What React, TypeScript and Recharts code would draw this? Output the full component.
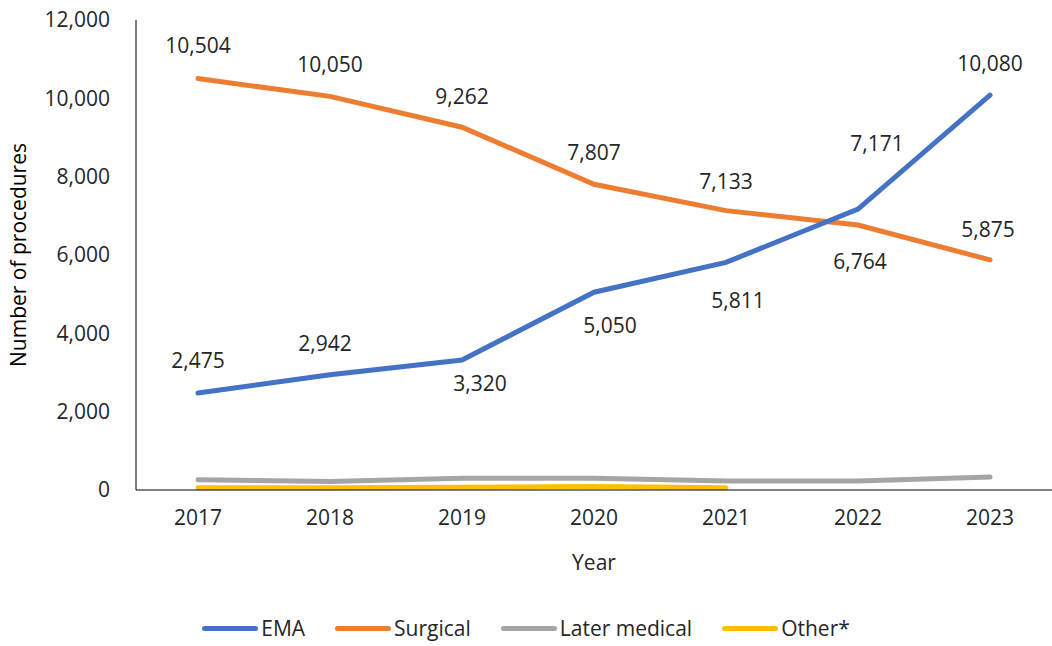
import React from 'react';
import { LineChart, Line, XAxis, YAxis, Legend } from 'recharts';

const years = ['2017', '2018', '2019', '2020', '2021', '2022', '2023'];
const ema = [2475, 2942, 3320, 5050, 5811, 7171, 10080];
const surgical = [10504, 10050, 9262, 7807, 7133, 6764, 5875];
const laterMedical = [260, 220, 300, 300, 230, 230, 330];
const other = [60, 60, 70, 90, 60, null, null];
const yTicks = [0, 2000, 4000, 6000, 8000, 10000, 12000];

const data = years.map((year, i) => ({
  year,
  ema: ema[i],
  surgical: surgical[i],
  laterMedical: laterMedical[i],
  other: other[i],
}));

const series = [
  { key: 'ema', name: 'EMA', color: '#4472C4' },
  { key: 'surgical', name: 'Surgical', color: '#ED7D31' },
  { key: 'laterMedical', name: 'Later medical', color: '#A5A5A5' },
  { key: 'other', name: 'Other*', color: '#FFC000' },
];

// label placement tweaks, like the hand-moved labels in the original
const emaOffsets = [
  [0, -33], [-5, -32], [18, 23], [16, 33], [12, 38], [19, -66], [0, -32],
];
const surgicalOffsets = [
  [0, -34], [0, -32], [0, -31], [0, -32], [0, -30], [2, 36], [-2, -31],
];

const FONT = '"Open Sans", sans-serif';
const TEXT = '#262626';

const makeLabel = (offsets: number[][]) => (props: any) => {
  const { x, y, value, index } = props;
  if (value == null) return null;
  const [dx, dy] = offsets[index] || [0, -30];
  return (
    <text
      x={x + dx}
      y={y + dy}
      textAnchor="middle"
      dominantBaseline="central"
      fontSize={21}
      fontFamily={FONT}
      fill={TEXT}
    >
      {Number(value).toLocaleString('en-US')}
    </text>
  );
};

const LegendContent = () => (
  <div
    style={{
      display: 'flex',
      justifyContent: 'center',
      alignItems: 'center',
      gap: 30,
      fontFamily: FONT,
      fontSize: 21,
      color: TEXT,
      height: 28,
    }}
  >
    {series.map((s) => (
      <div key={s.key} style={{ display: 'flex', alignItems: 'center' }}>
        <span
          style={{
            display: 'inline-block',
            width: 56,
            height: 5,
            borderRadius: 3,
            background: s.color,
            marginRight: 3,
          }}
        />
        <span>{s.name}</span>
      </div>
    ))}
  </div>
);

const App: React.FC = () => {
  return (
    <div style={{ position: 'absolute', left: 0, top: 0 }}>
      <LineChart
        width={1052}
        height={646}
        data={data}
        margin={{ top: 20, right: 0, left: 0, bottom: 4 }}
      >
        <XAxis
          dataKey="year"
          scale="point"
          padding={{ left: 62, right: 62 }}
          axisLine={{ stroke: '#000', strokeWidth: 1 }}
          tickLine={false}
          tickMargin={14}
          height={124}
          tick={{ fontSize: 21, fill: TEXT, fontFamily: FONT }}
          label={{
            value: 'Year',
            position: 'insideBottom',
            offset: 44,
            fontSize: 21,
            fill: TEXT,
            fontFamily: FONT,
          }}
        />
        <YAxis
          domain={[0, 12000]}
          ticks={yTicks}
          width={136}
          axisLine={{ stroke: '#000', strokeWidth: 1 }}
          tickLine={false}
          tickMargin={20}
          tick={{ fontSize: 21, fill: TEXT, fontFamily: FONT }}
          tickFormatter={(v) => v.toLocaleString('en-US')}
          label={{
            value: 'Number of procedures',
            angle: -90,
            position: 'insideLeft',
            offset: 19,
            style: { textAnchor: 'middle' },
            fontSize: 21,
            fill: '#000',
            fontFamily: FONT,
          }}
        />
        <Legend verticalAlign="bottom" content={<LegendContent />} />
        <Line
          type="linear"
          dataKey="laterMedical"
          name="Later medical"
          stroke="#A5A5A5"
          strokeWidth={5}
          strokeLinecap="round"
          dot={false}
          isAnimationActive={false}
        />
        <Line
          type="linear"
          dataKey="other"
          name="Other*"
          stroke="#FFC000"
          strokeWidth={5}
          strokeLinecap="round"
          dot={false}
          isAnimationActive={false}
        />
        <Line
          type="linear"
          dataKey="surgical"
          name="Surgical"
          stroke="#ED7D31"
          strokeWidth={5}
          strokeLinecap="round"
          dot={false}
          label={makeLabel(surgicalOffsets)}
          isAnimationActive={false}
        />
        <Line
          type="linear"
          dataKey="ema"
          name="EMA"
          stroke="#4472C4"
          strokeWidth={5}
          strokeLinecap="round"
          dot={false}
          label={makeLabel(emaOffsets)}
          isAnimationActive={false}
        />
      </LineChart>
    </div>
  );
};

export default App;
